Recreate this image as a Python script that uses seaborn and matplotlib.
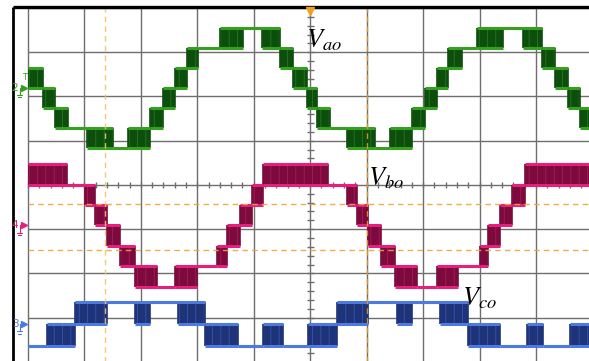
import numpy as np
import pandas as pd
import matplotlib
matplotlib.use("Agg")
import matplotlib.pyplot as plt
import seaborn as sns

# ---------------- data read from the scope screen ----------------
# time breakpoints in screen divisions; each segment has a (low, high) inverter level.
# low == high -> clean level, low != high -> PWM switching band between two levels
va_t = [0.00, 0.27, 0.48, 0.71, 1.05, 1.51, 1.77, 2.16, 2.39, 2.61, 2.82, 3.01,
        3.40, 3.81, 4.15, 4.47, 4.70, 4.94, 5.12, 5.35, 5.65, 6.15, 6.41, 6.80,
        7.03, 7.25, 7.44, 7.69, 7.96, 8.42, 8.77, 9.11, 9.34, 9.57, 9.78, 10.0]
va_lo = [0, -1, -2, -2, -3, -3, -3, -2, -1, 0, 1, 2, 2, 3, 2, 1, 0, -1,
         -2, -2, -3, -3, -3, -2, -1, 0, 1, 2, 2, 3, 2, 1, 0, -1, -2]
va_hi = [1, 0, -1, -2, -2, -3, -2, -1, 0, 1, 2, 2, 3, 3, 3, 2, 1, 0,
         -1, -2, -2, -3, -2, -1, 0, 1, 2, 2, 3, 3, 3, 2, 1, 0, -1]

vb_t = [0.00, 0.69, 1.01, 1.19, 1.40, 1.63, 1.90, 2.29, 2.61, 2.99, 3.35, 3.53,
        3.76, 3.97, 4.16, 5.32, 5.65, 5.83, 6.02, 6.25, 6.50, 6.89, 7.25, 7.62,
        8.01, 8.15, 8.36, 8.58, 8.81, 10.0]
vb_lo = [2, 2, 1, 0, -1, -2, -3, -3, -3, -2, -2, -1, 0, 1, 2,
         2, 1, 0, -1, -2, -3, -3, -3, -2, -2, -1, 0, 1, 2]
vb_hi = [3, 2, 2, 1, 0, -1, -2, -3, -2, -2, -1, 0, 1, 2, 3,
         2, 2, 1, 0, -1, -2, -3, -2, -2, -1, 0, 1, 2, 3]

vc_t = [0.00, 0.34, 0.83, 1.40, 1.90, 2.16, 2.66, 3.14, 3.72, 4.16, 4.52, 4.96,
        5.48, 6.02, 6.54, 6.80, 7.30, 7.80, 8.36, 8.84, 9.13, 9.60, 10.0]
vc_lo = [-1, -1, 0, 1, 0, 1, 0, -1, -1, -1, -1, -1, 0, 1, 0, 1, 0, -1, -1, -1, -1, -1]
vc_hi = [-1, 0, 1, 1, 1, 1, 1, 0, -1, 0, -1, 0, 1, 1, 1, 1, 1, 0, -1, 0, -1, 0]

labels = ["$V_{ao}$", "$V_{bo}$", "$V_{co}$"]
channel_ids = ["2", "4", "3"]
cursor_t = [1.365, 6.01]
cursor_y = [3.58, 2.54]

# ---------------- styling ----------------
sns.set_style("white")
plt.rcParams["mathtext.fontset"] = "stix"
plt.rcParams["hatch.linewidth"] = 0.5

fig = plt.figure(figsize=(5.89, 3.61), dpi=100)
ax = fig.add_axes([0, 0, 1, 1])
ax.set_xlim(-28 / 56.44, (589 - 28) / 56.44)
ax.set_ylim(0.02, 8.18)

grid_c = "#6e6e6e"
# graticule
ax.vlines(np.arange(0, 11), 0, 8, color=grid_c, lw=1.0, zorder=1)
ax.hlines(np.arange(0, 9), 0, 10, color=grid_c, lw=1.0, zorder=1)
ty = np.arange(0, 8.01, 0.2)
ax.hlines(ty, 5 - 0.06, 5 + 0.06, color=grid_c, lw=1.0, zorder=1)
tx = np.arange(0, 10.01, 0.2)
ax.vlines(tx, 4 - 0.07, 4 + 0.07, color=grid_c, lw=1.0, zorder=1)

# screen frame
ax.plot([-0.266, -0.266], [-0.1, 8.02], color="black", lw=2.0, zorder=6, solid_capstyle="butt")
ax.plot([-0.266, 10.2], [8.02, 8.02], color="black", lw=2.4, zorder=6, solid_capstyle="butt")

channels = [
    (va_t, va_lo, va_hi, 6.197, 0.4528, "#35a020", "#0c4f0c", "#2f7d25"),
    (vb_t, vb_lo, vb_hi, 3.083, 0.460, "#e5207c", "#7c0a3c", "#b0205e"),
    (vc_t, vc_lo, vc_hi, 0.858, 0.489, "#4d7ae0", "#1f3378", "#3a5cb8"),
]

for t, lo, hi, off, sc, bright, dark, mid in channels:
    t = np.asarray(t, float)
    lo = np.asarray(lo)
    hi = np.asarray(hi)
    lo_e = np.r_[lo, lo[-1]]
    hi_e = np.r_[hi, hi[-1]]
    # switching bands
    ax.fill_between(t, off + sc * lo_e, off + sc * hi_e, step="post",
                    facecolor=dark, edgecolor=mid, hatch="||", lw=0, zorder=3)
    # vertical transitions (dark pulse edges)
    ax.vlines(t[1:-1], off + sc * np.minimum(lo[:-1], lo[1:]),
              off + sc * np.maximum(hi[:-1], hi[1:]), color=dark, lw=1.2, zorder=3)
    # bright level traces: one horizontal run per segment edge
    rows = []
    for i in range(len(lo)):
        for edge, lev in (("lo", lo[i]), ("hi", hi[i])):
            rows.append({"t": t[i], "y": off + sc * lev, "seg": f"{edge}{i}"})
            rows.append({"t": t[i + 1], "y": off + sc * lev, "seg": f"{edge}{i}"})
    df = pd.DataFrame(rows)
    sns.lineplot(data=df, x="t", y="y", units="seg", estimator=None, sort=False,
                 color=bright, lw=2.2, ax=ax, zorder=4, solid_capstyle="butt")

ax.axis("off")

# cursors
for c, col in zip(cursor_t, ["#f3c070", "#e8962a"]):
    ax.vlines(c, 0, 8, color=col, lw=1.0, linestyles=(0, (4, 3)), zorder=5, alpha=0.9)
for c in cursor_y:
    ax.hlines(c, 0, 10, color="#eda53a", lw=1.0, linestyles=(0, (4, 3)), zorder=5, alpha=0.9)
ax.plot(5.0, 7.94, marker="v", color="#f0a020", ms=6, zorder=7)

# channel markers
for cid, (t, lo, hi, off, sc, bright, dark, mid) in zip(channel_ids, channels):
    ax.text(-0.23, off, cid, color=bright, fontsize=7.5, ha="center", va="center", zorder=7)
    ax.plot(-0.07, off, marker=">", color=bright, ms=4, zorder=7)
    ax.plot([-0.15, -0.15, -0.07], [off - 0.16, off, off], color=bright, lw=0.8, zorder=7)
    ax.plot([-0.2, -0.1], [off - 0.16, off - 0.16], color=bright, lw=0.8, zorder=7)
    ax.plot([-0.18, -0.12], [off - 0.22, off - 0.22], color=bright, lw=0.8, zorder=7)
ax.text(-0.07, 6.43, "T", color="#35a020", fontsize=6, ha="center", va="center", zorder=7)

# waveform labels
label_pos = [(4.93, 7.10), (6.02, 3.99), (7.69, 1.27)]
for lab, (x, y) in zip(labels, label_pos):
    ax.text(x, y, lab, fontsize=19, color="black", ha="left", va="baseline", zorder=8)

fig.savefig("out.png", dpi=100)
